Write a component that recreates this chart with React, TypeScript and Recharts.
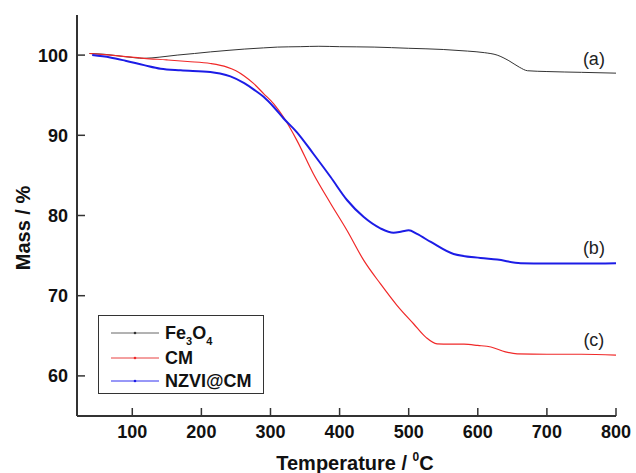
import { LineChart, Line, XAxis, YAxis, Legend, ReferenceDot } from 'recharts';

// thermogravimetric curves, temperature (°C) vs mass (%)
const fe3o4 = [
  [38, 100.2], [60, 100.1], [90, 99.8], [117, 99.6], [140, 99.75], [165, 100.0],
  [190, 100.2], [213, 100.4], [240, 100.6], [262, 100.75], [290, 100.9], [310, 101.0],
  [343, 101.05], [370, 101.1], [400, 101.05], [450, 101.0], [500, 100.85], [550, 100.7],
  [585, 100.5], [610, 100.3], [628, 100.0], [645, 99.3], [660, 98.5], [672, 98.05],
  [700, 97.95], [750, 97.85], [800, 97.75],
].map(([t, m]) => ({ t, m }));

const cm = [
  [38, 100.2], [60, 100.05], [80, 99.9], [117, 99.6], [150, 99.4], [180, 99.2],
  [213, 98.95], [237, 98.5], [250, 98.05], [262, 97.4], [275, 96.5], [290, 95.2],
  [305, 93.9], [319, 92.25], [338, 89.4], [362, 85.2], [387, 81.5], [411, 78.1],
  [435, 74.4], [459, 71.5], [483, 68.8], [507, 66.5], [525, 64.8], [541, 64.0],
  [560, 63.95], [580, 63.95], [600, 63.8], [619, 63.6], [640, 63.0], [657, 62.75],
  [700, 62.7], [750, 62.7], [800, 62.6],
].map(([t, m]) => ({ t, m }));

const nzvi = [
  [42, 100.0], [68, 99.7], [90, 99.3], [117, 98.75], [141, 98.3], [170, 98.1],
  [213, 97.9], [227, 97.7], [242, 97.35], [262, 96.5], [276, 95.7], [290, 94.8],
  [305, 93.5], [319, 92.1], [338, 90.4], [362, 87.7], [387, 84.8], [411, 81.9],
  [435, 79.8], [459, 78.4], [478, 77.85], [490, 78.0], [500, 78.15], [512, 77.7],
  [532, 76.7], [565, 75.2], [604, 74.7], [628, 74.5], [662, 74.05], [700, 74.0],
  [750, 74.0], [800, 74.05],
].map(([t, m]) => ({ t, m }));

const xTicks = [100, 200, 300, 400, 500, 600, 700, 800];
const yTicks = [60, 70, 80, 90, 100];

const curveTags = [
  { t: 768, m: 98.75, text: '(a)' },
  { t: 768, m: 75.25, text: '(b)' },
  { t: 768, m: 63.75, text: '(c)' },
];

const series = [
  { key: 'fe', data: fe3o4, color: '#333333', width: 1, legendColor: '#666666' },
  { key: 'cm', data: cm, color: '#f02828', width: 1.2, legendColor: '#e84040' },
  { key: 'nzvi', data: nzvi, color: '#1c1ce6', width: 2, legendColor: '#3030f0' },
];

const FONT = '"Liberation Sans", Arial, sans-serif';
const AXIS = '#333333';

function XTick({ x, y, payload }: any) {
  return (
    <g>
      <line x1={x} x2={x} y1={y} y2={y - 8} stroke={AXIS} strokeWidth={1.5} />
      <text x={x} y={y + 22} textAnchor="middle" fontFamily={FONT} fontWeight="bold" fontSize={18} fill="#111">
        {payload.value}
      </text>
    </g>
  );
}

function YTick({ x, y, payload }: any) {
  return (
    <g>
      <line x1={x} x2={x + 8} y1={y} y2={y} stroke={AXIS} strokeWidth={1.5} />
      <text x={x - 9} y={y + 6.5} textAnchor="end" fontFamily={FONT} fontWeight="bold" fontSize={18} fill="#111">
        {payload.value}
      </text>
    </g>
  );
}

function XTitle() {
  return (
    <text x={355} y={470} textAnchor="middle" fontFamily={FONT} fontWeight="bold" fontSize={20} fill="#111">
      Temperature / <tspan fontSize={12} dy={-9}>0</tspan>
      <tspan dy={9}>C</tspan>
    </text>
  );
}

function YTitle() {
  return (
    <text
      x={30}
      y={228}
      transform="rotate(-90, 30, 228)"
      textAnchor="middle"
      fontFamily={FONT}
      fontWeight="bold"
      fontSize={20}
      fill="#111"
    >
      Mass / %
    </text>
  );
}

const legendNames = [
  <span>
    Fe<sub style={{ fontSize: 11, verticalAlign: -6 }}>3</sub>O<sub style={{ fontSize: 11, verticalAlign: -6 }}>4</sub>
  </span>,
  <span>CM</span>,
  <span>NZVI@CM</span>,
];
const legendRowCenters = [17, 42, 65];

function LegendBox() {
  return (
    <div
      style={{
        position: 'relative',
        width: 166,
        height: 79,
        boxSizing: 'border-box',
        border: `1.5px solid ${AXIS}`,
        background: '#fff',
        fontFamily: FONT,
        fontWeight: 'bold',
        fontSize: 18,
        color: '#111',
      }}
    >
      {series.map((s, i) => (
        <div key={s.key} style={{ position: 'absolute', left: 0, top: legendRowCenters[i] - 12, height: 24, width: '100%' }}>
          <svg width={48} height={4} style={{ position: 'absolute', left: 12, top: 10 }}>
            <line x1={0} x2={48} y1={2} y2={2} stroke={s.legendColor} strokeWidth={1} />
            <circle cx={24} cy={2} r={1.3} fill={s.color} />
          </svg>
          <div style={{ position: 'absolute', left: 66, top: 0, lineHeight: '24px', whiteSpace: 'nowrap' }}>
            {legendNames[i]}
          </div>
        </div>
      ))}
    </div>
  );
}

export default function App() {
  return (
    <div style={{ position: 'absolute', left: 0, top: 0, background: '#fff' }}>
      <LineChart width={636} height={473} margin={{ top: 15, right: 20, bottom: 0, left: 0 }}>
        <XAxis
          type="number"
          dataKey="t"
          domain={[20, 800]}
          ticks={xTicks}
          allowDataOverflow
          height={57}
          stroke={AXIS}
          strokeWidth={2}
          tickLine={false}
          tickSize={0}
          tickMargin={0}
          tick={<XTick />}
          label={<XTitle />}
        />
        <XAxis xAxisId="top" orientation="top" type="number" domain={[20, 800]} height={0} stroke={AXIS} strokeWidth={2} tick={false} tickLine={false} />
        <YAxis
          type="number"
          dataKey="m"
          domain={[55, 105]}
          ticks={yTicks}
          allowDataOverflow
          width={77}
          stroke={AXIS}
          strokeWidth={2}
          tickLine={false}
          tickSize={0}
          tickMargin={0}
          tick={<YTick />}
          label={<YTitle />}
        />
        <YAxis yAxisId="right" orientation="right" type="number" domain={[55, 105]} width={0} stroke={AXIS} strokeWidth={2} tick={false} tickLine={false} />
        {series.map((s) => (
          <Line
            key={s.key}
            data={s.data}
            dataKey="m"
            type="monotone"
            stroke={s.color}
            strokeWidth={s.width}
            dot={false}
            isAnimationActive={false}
          />
        ))}
        {curveTags.map((c) => (
          <ReferenceDot
            key={c.text}
            x={c.t}
            y={c.m}
            r={1}
            shape={(p: any) => (
              <text x={p.cx} y={p.cy} textAnchor="middle" fontFamily={FONT} fontSize={18} fill="#222">
                {c.text}
              </text>
            )}
          />
        ))}
        <Legend
          layout="vertical"
          align="center"
          verticalAlign="middle"
          content={<LegendBox />}
          wrapperStyle={{ left: 98, top: 315, width: 166, height: 79 }}
        />
      </LineChart>
    </div>
  );
}
